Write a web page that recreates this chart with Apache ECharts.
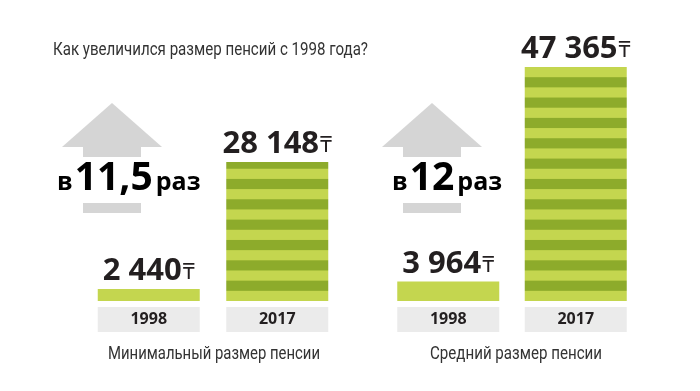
<!DOCTYPE html>
<html>
<head>
<meta charset="utf-8">
<script src="https://cdn.jsdelivr.net/npm/echarts@6/dist/echarts.min.js"></script>
<style>html,body{margin:0;padding:0;background:#fff}#c{width:700px;height:391px}</style>
</head>
<body>
<div id="c"></div>
<script>
const chartTitle = 'Как увеличился размер пенсий с 1998 года?';
const categories = ['1998', '2017'];
const minPension = [2440, 28148];
const avgPension = [3964, 47365];
const groupTitles = ['Минимальный размер пенсии', 'Средний размер пенсии'];
const growthLabels = ['11,5', '12'];
const currency = '₸';

const LIGHT = '#c4d64f';
const DARK = '#8dab2b';
const GRAY = '#d5d5d5';
const BOX = '#ebebeb';
const BLUE = '#1b9ad7';
const INK = '#231f20';
const BOLD = "'Open Sans', 'Noto Sans', sans-serif";
const THIN = "Roboto, 'Noto Sans', sans-serif";
const THIN_SIZE = 18;

function fmt(v) { return String(v).replace(/\B(?=(\d{3})+(?!\d))/g, ' '); }

const measureCtx = document.createElement('canvas').getContext('2d');
function squeeze(text, targetWidth) {
  measureCtx.font = THIN_SIZE + 'px ' + THIN;
  return targetWidth / measureCtx.measureText(text).width;
}

const chart = echarts.init(document.getElementById('c'), null, { renderer: 'canvas' });

function seriesData(values, pattern) {
  return values.map((v, i) => ({
    value: v,
    itemStyle: { color: i === 0 ? LIGHT : (pattern || DARK) }
  }));
}

function buildOption(pattern) {
  const labelCfg = {
    show: true, position: 'top', distance: 2,
    formatter: p => '{v|' + fmt(p.value) + '}{t|' + currency + '}',
    rich: {
      v: { fontFamily: BOLD, fontWeight: 'bold', fontSize: 31, color: INK, verticalAlign: 'bottom' },
      t: { fontFamily: "'Noto Sans', 'DejaVu Sans', sans-serif", fontSize: 22, color: INK, verticalAlign: 'bottom', padding: [0, 0, 3, 1] }
    }
  };
  const xAxisCfg = idx => ({
    type: 'category', gridIndex: idx, data: categories,
    axisLine: { show: false }, axisTick: { show: false },
    axisLabel: {
      margin: 6, backgroundColor: BOX, width: 102, height: 25, lineHeight: 25,
      align: 'center', fontFamily: BOLD, fontWeight: 'bold', fontSize: 16, color: INK
    }
  });
  const yAxisCfg = idx => ({
    type: 'value', gridIndex: idx, min: 0, max: 50000, show: false, splitLine: { show: false }
  });
  const rt = (x, txt) => ({
    type: 'text', x: x, y: 198, z: 10,
    style: {
      text: '{a|в}{b|' + txt + '}{c|раз}', verticalAlign: 'bottom',
      rich: {
        a: { fontFamily: BOLD, fontWeight: 'bold', fontSize: 25, color: INK, verticalAlign: 'bottom', padding: [0, 2, 3, 0] },
        b: { fontFamily: BOLD, fontWeight: 'bold', fontSize: 39, color: BLUE, verticalAlign: 'bottom' },
        c: { fontFamily: BOLD, fontWeight: 'bold', fontSize: 25, color: INK, verticalAlign: 'bottom', padding: [0, 0, 3, 3] }
      }
    }
  });
  const arrow = (cx) => [
    { type: 'polygon', shape: { points: [[cx - 50, 147], [cx, 103], [cx + 50, 147]] }, style: { fill: GRAY } },
    { type: 'rect', shape: { x: cx - 29, y: 146, width: 58, height: 11 }, style: { fill: GRAY } },
    { type: 'rect', shape: { x: cx - 29, y: 203, width: 58, height: 10 }, style: { fill: GRAY } }
  ];
  const thinText = (x, y, text, align, w) => ({
    type: 'text', x: x, y: y, scaleX: squeeze(text, w),
    style: { text: text, fontFamily: THIN, fontSize: THIN_SIZE, fill: '#333', align: align, verticalAlign: 'bottom' }
  });
  return {
    animation: false,
    backgroundColor: '#ffffff',
    grid: [
      { left: 84.5, width: 257, top: 54, height: 247 },
      { left: 384.5, width: 255, top: 54, height: 247 }
    ],
    xAxis: [xAxisCfg(0), xAxisCfg(1)],
    yAxis: [yAxisCfg(0), yAxisCfg(1)],
    series: [
      { type: 'bar', xAxisIndex: 0, yAxisIndex: 0, barWidth: 102, data: seriesData(minPension, pattern), label: labelCfg },
      { type: 'bar', xAxisIndex: 1, yAxisIndex: 1, barWidth: 102, data: seriesData(avgPension, pattern), label: labelCfg }
    ],
    graphic: [
      thinText(53, 59, chartTitle, 'left', 315),
      thinText(214, 363, groupTitles[0], 'center', 212),
      thinText(516, 363, groupTitles[1], 'center', 172),
      ...arrow(112), ...arrow(432),
      rt(57, growthLabels[0]), rt(392, growthLabels[1])
    ]
  };
}

chart.setOption(buildOption(null));

// striped pattern for 2017 bars, anchored to the tallest bar
const barTopPx = chart.convertToPixel({ yAxisIndex: 1 }, Math.max(...avgPension));
const barBottomPx = chart.convertToPixel({ yAxisIndex: 1 }, 0);
const stripeH = (barBottomPx - barTopPx) / 23;
const cv = document.createElement('canvas');
cv.width = 8; cv.height = 400;
const ctx = cv.getContext('2d');
ctx.fillStyle = DARK; ctx.fillRect(0, 0, 8, 400);
ctx.fillStyle = LIGHT;
for (let k = -20; k < 40; k += 2) {
  ctx.fillRect(0, barTopPx + k * stripeH, 8, stripeH);
}
chart.setOption(buildOption({ image: cv, repeat: 'repeat' }));
</script>
</body>
</html>
